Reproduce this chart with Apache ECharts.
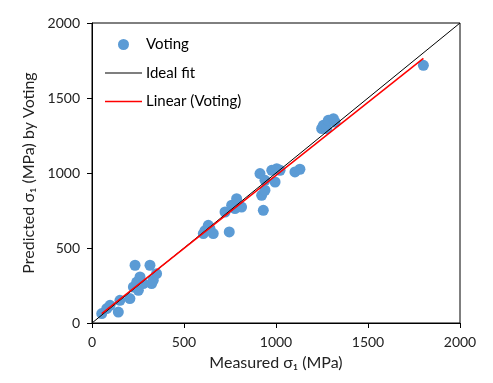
<!DOCTYPE html>
<html>
<head>
<meta charset="utf-8">
<script src="https://cdn.jsdelivr.net/npm/echarts@6/dist/echarts.min.js"></script>
<style>
  html, body { margin: 0; padding: 0; background: #fff; }
  #chart { width: 493px; height: 383px; }
</style>
</head>
<body>
<div id="chart"></div>
<script>
// Measured vs predicted major principal stress (MPa)
const measured = [
  53, 80, 98, 143, 152, 206, 225, 234, 243, 252, 261, 279, 315, 324, 333, 351,
  605, 614, 632, 641, 659, 723, 746, 759, 777, 786, 813,
  913, 922, 931, 940, 940, 977, 995, 1004, 1022, 1103, 1130,
  1248, 1257, 1275, 1284, 1312, 1321,
  1801
];
const predicted = [
  63, 96, 118, 73, 151, 163, 240, 385, 273, 218, 307, 263, 385, 263, 285, 329,
  596, 615, 651, 629, 596, 740, 607, 785, 763, 829, 773,
  996, 851, 751, 885, 951, 1018, 940, 1029, 1018, 1007, 1025,
  1296, 1318, 1296, 1351, 1362, 1340,
  1718
];

// Reference 1:1 line and the linear trend of the predictions
const idealX = [0, 2000];
const idealY = [0, 2000];
const trendX = [53, 1801];
const trendY = [63, 1764];

const axisTicks = [0, 500, 1000, 1500, 2000];

const zip = (a, b) => a.map((v, i) => [v, b[i]]);

const font = 'Lato, "Open Sans", sans-serif';

const axisCommon = {
  min: axisTicks[0],
  max: axisTicks[axisTicks.length - 1],
  interval: axisTicks[1] - axisTicks[0],
  axisLine: { show: true, onZero: false, lineStyle: { color: '#000', width: 1 } },
  axisTick: { show: true, inside: false, length: 5, lineStyle: { color: '#000' } },
  splitLine: { show: false },
  axisLabel: {
    color: '#222', fontFamily: font, fontSize: 14, margin: 12,
    formatter: v => String(v)
  },
  nameLocation: 'middle',
  nameTextStyle: { color: '#222', fontFamily: font, fontSize: 16 }
};

// thin horizontal bars used as legend keys for the two lines
const lineKey = h => 'path://M0,0 L37,0 L37,' + h + ' L0,' + h + ' Z';

const chart = echarts.init(document.getElementById('chart'), null, { renderer: 'canvas' });
chart.setOption({
  animation: false,
  backgroundColor: '#fff',
  grid: {
    left: 92, right: 33, top: 23, bottom: 60,
    show: true, borderColor: '#000', borderWidth: 1, backgroundColor: 'transparent'
  },
  legend: {
    orient: 'vertical',
    left: 100, top: 32,
    itemWidth: 37, itemHeight: 11, itemGap: 13.5,
    textStyle: { color: '#000', fontFamily: font, fontSize: 15, padding: [0, 0, 0, -1] },
    data: [
      { name: 'Voting', icon: 'circle' },
      { name: 'Ideal fit', icon: lineKey(1) },
      { name: 'Linear (Voting)', icon: lineKey(1.5) }
    ]
  },
  xAxis: Object.assign({}, axisCommon, {
    type: 'value',
    name: 'Measured σ₁ (MPa)',
    nameGap: 32
  }),
  yAxis: Object.assign({}, axisCommon, {
    type: 'value',
    name: 'Predicted σ₁ (MPa) by Voting',
    nameGap: 52
  }),
  series: [
    {
      name: 'Voting',
      type: 'scatter',
      symbol: 'circle',
      symbolSize: 11,
      itemStyle: { color: '#5b9bd5', opacity: 1 },
      data: zip(measured, predicted),
      z: 2
    },
    {
      name: 'Ideal fit',
      type: 'line',
      symbol: 'none',
      lineStyle: { color: '#000', width: 1 },
      itemStyle: { color: '#000' },
      data: zip(idealX, idealY),
      z: 3
    },
    {
      name: 'Linear (Voting)',
      type: 'line',
      symbol: 'none',
      lineStyle: { color: '#ff0000', width: 1.5 },
      itemStyle: { color: '#ff0000' },
      data: zip(trendX, trendY),
      z: 4
    }
  ]
});
</script>
</body>
</html>
